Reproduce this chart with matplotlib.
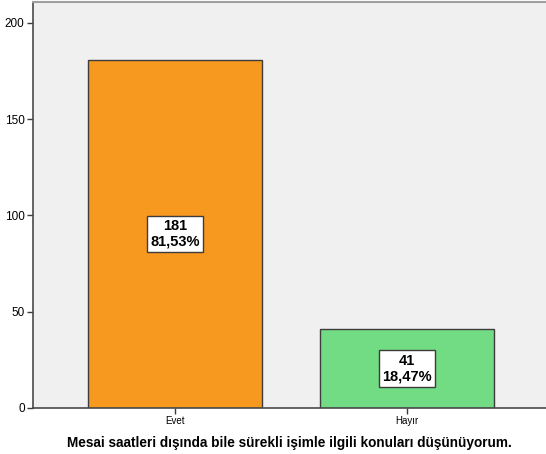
import matplotlib
matplotlib.use("Agg")
import matplotlib.pyplot as plt

categories = ["Evet", "Hayır"]
counts = [181, 41]
percents = ["81,53%", "18,47%"]
colors = ["#f7991f", "#72dc84"]
yticks = [0, 50, 100, 150, 200]
xlabel = "Mesai saatleri dışında bile sürekli işimle ilgili konuları düşünüyorum."

plt.rcParams['font.family'] = ['Liberation Sans', 'DejaVu Sans']

fig = plt.figure(figsize=(5.46, 4.54), dpi=100)
ax = fig.add_axes([33/546, 46/454, 1 - 33/546, (408-2)/454])
ax.set_facecolor("#f0f0f0")

x = list(range(len(categories)))
ax.bar(x, counts, width=0.75, color=colors, edgecolor="#3c3c3c", linewidth=1.0, zorder=2)
for xi, c, p in zip(x, counts, percents):
    ax.text(xi, c/2, f"{c}\n{p}", ha="center", va="center", fontsize=10.5, fontweight="bold",
            linespacing=1.1, zorder=3,
            bbox=dict(boxstyle="square,pad=0.25", facecolor="white", edgecolor="#3c3c3c", linewidth=1.0))

ax.set_xlim(-0.612, 1.599)
ax.set_ylim(0, 210.9)
ax.set_xticks(x)
ax.set_xticklabels(categories, fontsize=7)
ax.set_yticks(yticks)
ax.set_yticklabels([str(t) for t in yticks], fontsize=8.5)
ax.tick_params(axis="both", length=4, width=1, color="#3c3c3c", pad=2)
ax.set_xlabel(xlabel, fontsize=9.8, fontweight="bold", labelpad=7)

for s in ["left", "bottom"]:
    ax.spines[s].set_color("#4a4a4a")
    ax.spines[s].set_linewidth(1.2)
ax.spines["top"].set_color("#a0a0a0")
ax.spines["top"].set_linewidth(1.5)
ax.spines["right"].set_visible(False)

fig.savefig("out.png", dpi=100)
